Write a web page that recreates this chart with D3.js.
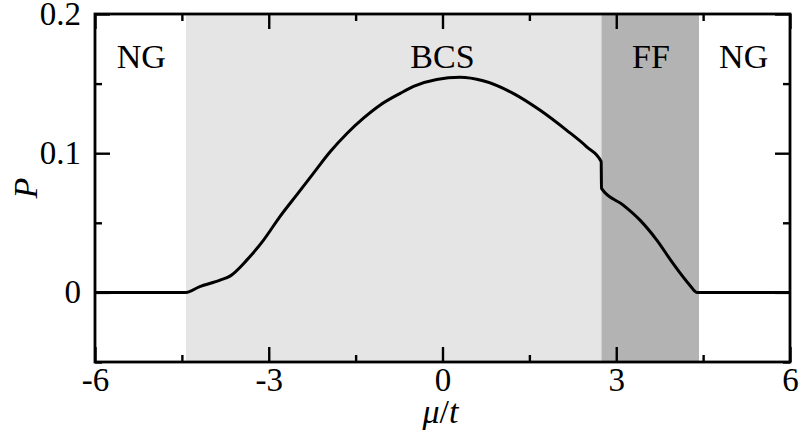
<!DOCTYPE html>
<html><head><meta charset="utf-8">
<script src="https://cdn.jsdelivr.net/npm/d3@7/dist/d3.min.js"></script>
<style>html,body{margin:0;padding:0;background:#fff;}svg{display:block;}</style>
</head><body>
<svg id="c" width="806" height="434"></svg>
<script>
// data
const mu = [-6, -4.43, -4.2, -3.84, -3.67, -3.38, -3.09, -2.81, -2.52, -2.23, -1.94, -1.65, -1.37, -1.08, -0.73, -0.50, -0.10, 0.30, 0.70, 1.22, 1.68, 2.14, 2.49, 2.74, 2.745, 3.12, 3.41, 3.70, 3.98, 4.27, 4.39, 6];
const P  = [0, 0, 0.004, 0.0088, 0.0117, 0.0232, 0.0376, 0.0543, 0.0699, 0.0855, 0.101, 0.1142, 0.125, 0.1345, 0.143, 0.148, 0.153, 0.1545, 0.152, 0.143, 0.131, 0.1166, 0.1046, 0.094, 0.0747, 0.0627, 0.0519, 0.0376, 0.0208, 0.0052, 0, 0];
const regionNames = ["NG", "BCS", "FF", "NG"];
const regionStart = [-6, -4.43, 2.745, 4.43];
const regionEnd   = [-4.43, 2.745, 4.43, 6];
const regionLabelMu = [-5.2, 0, 3.6, 5.2];
const regionFill  = ["#ffffff", "#e5e5e5", "#b3b3b3", "#ffffff"];
const xMajor = [-6, -3, 0, 3, 6];
const xMinor = [-4.5, -1.5, 1.5, 4.5];
const yMajor = [0, 0.1, 0.2];
const yMinor = [-0.05, 0.05, 0.15];

const svg = d3.select("#c");
const L = 95, R = 790, T = 14, B = 362;
const x = d3.scaleLinear().domain([-6, 6]).range([L, R]);
const y = d3.scaleLinear().domain([-0.05, 0.2]).range([B, T]);
const font = '"Liberation Serif"';

// regions
svg.append("g").selectAll("rect").data(regionNames).join("rect")
  .attr("x", (d, i) => x(regionStart[i]))
  .attr("y", T)
  .attr("width", (d, i) => x(regionEnd[i]) - x(regionStart[i]))
  .attr("height", B - T)
  .attr("fill", (d, i) => regionFill[i]);

// region labels
svg.append("g").selectAll("text").data(regionNames).join("text")
  .attr("x", (d, i) => x(regionLabelMu[i]))
  .attr("y", 68)
  .attr("text-anchor", "middle")
  .style("font-family", font)
  .attr("font-size", 34)
  .attr("fill", "#000")
  .text(d => d);

// curve
const pts = mu.map((m, i) => [m, P[i]]);
svg.append("path")
  .datum(pts)
  .attr("fill", "none")
  .attr("stroke", "#000")
  .attr("stroke-width", 3)
  .attr("stroke-linejoin", "round")
  .attr("d", d3.line().x(d => x(d[0])).y(d => y(d[1])).curve(d3.curveMonotoneX));

function styleAxis(g) {
  g.attr("font-family", null);
  g.select(".domain").remove();
  g.selectAll("line").attr("stroke", "#000").attr("stroke-width", 2.4);
  g.selectAll("text").style("font-family", font).attr("font-size", 33).attr("fill", "#000");
}
const fmtX = d => d3.format("d")(d).replace("\u2212", "-");
const fmtY = d => d === 0 ? "0" : d3.format(".1f")(d);

// bottom
svg.append("g").attr("transform", `translate(0,${B})`)
  .call(d3.axisBottom(x).tickValues(xMajor).tickSizeInner(-15).tickSizeOuter(0).tickPadding(6).tickFormat(fmtX))
  .call(styleAxis);
svg.append("g").attr("transform", `translate(0,${B})`)
  .call(d3.axisBottom(x).tickValues(xMinor).tickSizeInner(-7).tickSizeOuter(0).tickFormat(""))
  .call(styleAxis);
// top
svg.append("g").attr("transform", `translate(0,${T})`)
  .call(d3.axisTop(x).tickValues(xMajor).tickSizeInner(-15).tickSizeOuter(0).tickFormat(""))
  .call(styleAxis);
svg.append("g").attr("transform", `translate(0,${T})`)
  .call(d3.axisTop(x).tickValues(xMinor).tickSizeInner(-7).tickSizeOuter(0).tickFormat(""))
  .call(styleAxis);
// left
svg.append("g").attr("transform", `translate(${L},0)`)
  .call(d3.axisLeft(y).tickValues(yMajor).tickSizeInner(-15).tickSizeOuter(0).tickPadding(14).tickFormat(fmtY))
  .call(styleAxis);
svg.append("g").attr("transform", `translate(${L},0)`)
  .call(d3.axisLeft(y).tickValues(yMinor).tickSizeInner(-7).tickSizeOuter(0).tickFormat(""))
  .call(styleAxis);
// right
svg.append("g").attr("transform", `translate(${R},0)`)
  .call(d3.axisRight(y).tickValues(yMajor).tickSizeInner(-15).tickSizeOuter(0).tickFormat(""))
  .call(styleAxis);
svg.append("g").attr("transform", `translate(${R},0)`)
  .call(d3.axisRight(y).tickValues(yMinor).tickSizeInner(-7).tickSizeOuter(0).tickFormat(""))
  .call(styleAxis);

// frame
svg.append("rect").attr("x", L).attr("y", T).attr("width", R - L).attr("height", B - T)
  .attr("fill", "none").attr("stroke", "#000").attr("stroke-width", 2.8);

// axis titles
const xt = svg.append("text")
  .attr("x", (L + R) / 2 - 2).attr("y", 423)
  .attr("text-anchor", "middle")
  .style("font-family", font).attr("font-size", 34).attr("fill", "#000");
xt.append("tspan").attr("font-style", "italic").text("\u03bc");
xt.append("tspan").text("/");
xt.append("tspan").attr("font-style", "italic").text("t");

svg.append("text")
  .attr("transform", `translate(37,${(T + B) / 2}) rotate(-90)`)
  .attr("text-anchor", "middle")
  .style("font-family", font).attr("font-size", 34).attr("font-style", "italic").attr("fill", "#000")
  .text("P");
</script>
</body></html>
